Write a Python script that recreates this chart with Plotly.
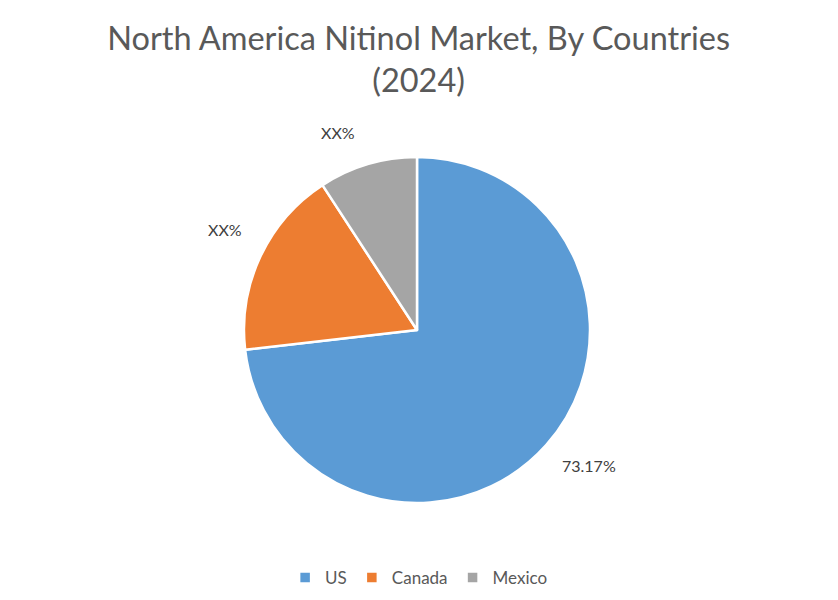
import numpy as np
import plotly.graph_objects as go

# dados do grafico
paises = ["US", "Canada", "Mexico"]
participacao = [73.17, 17.63, 9.20]
rotulos = ["73.17%", "XX%", "XX%"]
cores = ["#5B9BD5", "#ED7D31", "#A5A5A5"]

W, H = 838, 600
cx, cy = 409, 322   # centro da pizza (px, pagina tem margem de 8px)
raio = 173

fig = go.Figure()

fig.add_trace(
    go.Pie(
        labels=paises,
        values=participacao,
        text=rotulos,
        textinfo="none",
        sort=False,
        direction="clockwise",
        rotation=0,
        marker=dict(colors=cores, line=dict(color="white", width=2.5)),
        domain=dict(x=[(cx - raio) / W, (cx + raio) / W],
                    y=[1 - (cy + raio) / H, 1 - (cy - raio) / H]),
        hoverinfo="label+percent",
    )
)

# rotulos fora da pizza, posicionados a partir dos valores
dist = [1.267, 1.25, 1.227]
desvio = [3.4, -2.4, 5.3]  # graus
total = sum(participacao)
acum = 0
for i, v in enumerate(participacao):
    meio = (acum + v / 2) / total
    acum += v
    ang = np.radians(90 - 360 * meio + desvio[i])
    px = cx + raio * dist[i] * np.cos(ang)
    py = cy - raio * dist[i] * np.sin(ang)
    fig.add_annotation(
        x=px / W, y=1 - py / H, xref="paper", yref="paper",
        xanchor="center", yanchor="middle",
        text=rotulos[i], showarrow=False,
        font=dict(size=16, color="#404040", family="Lato"),
    )

fig.update_layout(
    title=dict(
        text="North America Nitinol Market, By Countries<br>(2024)",
        x=0.49, xanchor="center", y=0.93, yanchor="top",
        font=dict(size=32.5, color="#595959", family="Lato"),
    ),
    legend=dict(
        orientation="h", x=0.49, xanchor="center", y=1 - 552 / H, yanchor="top",
        font=dict(size=17, color="#595959", family="Lato"),
        itemwidth=30,
    ),
    margin=dict(l=0, r=0, t=0, b=0),
    paper_bgcolor="white",
    plot_bgcolor="white",
    width=W,
    height=H,
)

fig.write_html("out.html")
